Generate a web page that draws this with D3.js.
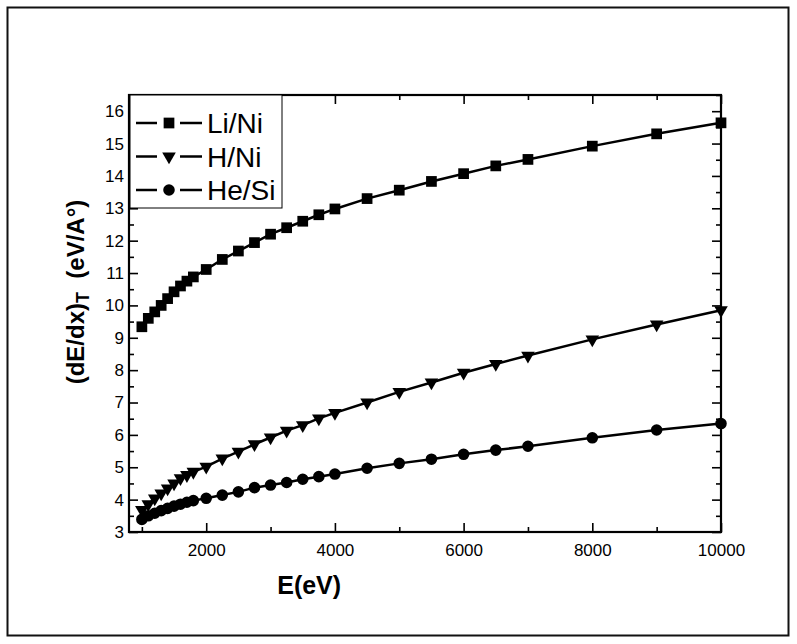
<!DOCTYPE html>
<html>
<head>
<meta charset="utf-8">
<script src="https://cdn.jsdelivr.net/npm/d3@7"></script>
<style>
  body { margin: 0; background: #fff; }
  text { font-family: Arial, "Liberation Sans", sans-serif; fill: #000; }
</style>
</head>
<body>
<div id="chart"></div>
<script>
// data
var energy = [1000, 1100, 1200, 1300, 1400, 1500, 1600, 1700, 1800, 2000, 2250, 2500, 2750,
              3000, 3250, 3500, 3750, 4000, 4500, 5000, 5500, 6000, 6500, 7000, 8000, 9000, 10000];
var liNi = [9.34, 9.6, 9.8, 10.0, 10.21, 10.42, 10.6, 10.75, 10.88, 11.11, 11.42, 11.68, 11.94,
            12.2, 12.4, 12.6, 12.8, 12.98, 13.3, 13.56, 13.83, 14.07, 14.31, 14.51, 14.92, 15.3, 15.64];
var hNi = [3.68, 3.86, 4.04, 4.19, 4.35, 4.5, 4.66, 4.76, 4.86, 5.02, 5.27, 5.48, 5.71,
           5.92, 6.13, 6.3, 6.51, 6.68, 7.0, 7.33, 7.62, 7.92, 8.19, 8.45, 8.95, 9.41, 9.85];
var heSi = [3.39, 3.5, 3.58, 3.66, 3.73, 3.8, 3.86, 3.92, 3.97, 4.04, 4.14, 4.24, 4.37,
            4.45, 4.53, 4.63, 4.71, 4.79, 4.97, 5.12, 5.25, 5.4, 5.53, 5.65, 5.91, 6.15, 6.35];
var seriesNames = ["Li/Ni", "H/Ni", "He/Si"];
var xTicks = [2000, 4000, 6000, 8000, 10000];
var xMinor = [1000, 3000, 5000, 7000, 9000];
var yTicks = [3, 4, 5, 6, 7, 8, 9, 10, 11, 12, 13, 14, 15, 16];
var yMinor = [3.5, 4.5, 5.5, 6.5, 7.5, 8.5, 9.5, 10.5, 11.5, 12.5, 13.5, 14.5, 15.5, 16.5];

var W = 797, H = 644;
var margin = {top: 95, right: 76, bottom: 112, left: 129};
var width = W - margin.left - margin.right;
var height = H - margin.top - margin.bottom;

var root = d3.select("#chart").append("svg")
    .attr("width", W)
    .attr("height", H);

// outer page frame
root.append("rect")
    .attr("x", 7.5).attr("y", 7.5)
    .attr("width", 781).attr("height", 628)
    .attr("fill", "none")
    .attr("stroke", "#111")
    .attr("stroke-width", 2);

var svg = root.append("g")
    .attr("transform", "translate(" + margin.left + "," + margin.top + ")");

var x = d3.scaleLinear().domain([800, 10000]).range([0, width]);
var y = d3.scaleLinear().domain([3, 16.5]).range([height, 0]);

function tickStyle(g) {
    g.select(".domain").remove();
    g.selectAll("line").attr("stroke", "#000").attr("stroke-width", 1.6);
    g.selectAll("text").style("font-size", "17px").attr("fill", "#000");
}

// bottom
svg.append("g").attr("transform", "translate(0," + height + ")")
    .call(d3.axisBottom(x).tickValues(xTicks).tickSize(-9).tickPadding(12).tickFormat(d3.format("d")))
    .call(tickStyle);
svg.append("g").attr("transform", "translate(0," + height + ")")
    .call(d3.axisBottom(x).tickValues(xMinor).tickSize(-5).tickFormat(""))
    .call(tickStyle);
// top
svg.append("g")
    .call(d3.axisTop(x).tickValues(xTicks).tickSize(-9).tickFormat(""))
    .call(tickStyle);
svg.append("g")
    .call(d3.axisTop(x).tickValues(xMinor).tickSize(-5).tickFormat(""))
    .call(tickStyle);
// left
svg.append("g")
    .call(d3.axisLeft(y).tickValues(yTicks).tickSize(-9).tickPadding(5).tickFormat(d3.format("d")))
    .call(tickStyle);
svg.append("g")
    .call(d3.axisLeft(y).tickValues(yMinor).tickSize(-5).tickFormat(""))
    .call(tickStyle);
// right
svg.append("g").attr("transform", "translate(" + width + ",0)")
    .call(d3.axisRight(y).tickValues(yTicks).tickSize(-9).tickFormat(""))
    .call(tickStyle);
svg.append("g").attr("transform", "translate(" + width + ",0)")
    .call(d3.axisRight(y).tickValues(yMinor).tickSize(-5).tickFormat(""))
    .call(tickStyle);

// plot frame
svg.append("rect")
    .attr("width", width).attr("height", height)
    .attr("fill", "none")
    .attr("stroke", "#000")
    .attr("stroke-width", 2.2);

// axis titles
svg.append("text")
    .attr("x", x(3600)).attr("y", height + 62)
    .attr("text-anchor", "middle")
    .style("font-size", "25px").style("font-weight", "bold")
    .text("E(eV)");

var yt = svg.append("text")
    .attr("transform", "translate(" + (-45) + "," + (197) + ") rotate(-90)")
    .attr("text-anchor", "middle")
    .style("font-size", "24px").style("font-weight", "bold");
yt.append("tspan").text("(dE/dx)");
yt.append("tspan").attr("dy", 5).style("font-size", "18px").text("T");
yt.append("tspan").attr("dy", -5).text("\u00a0 (eV/A\u00b0)");

// series
var symbols = [d3.symbolSquare, d3.symbolTriangle, d3.symbolCircle];
var sizes = [115, 80, 105];
var rotations = [0, 180, 0];
var seriesData = [liNi, hNi, heSi];

var line = d3.line()
    .x(function(d, i) { return x(energy[i]); })
    .y(function(d) { return y(d); });

seriesData.forEach(function(vals, s) {
    svg.append("path")
        .datum(vals)
        .attr("d", line)
        .attr("fill", "none")
        .attr("stroke", "#000")
        .attr("stroke-width", 2.5);

    svg.append("g")
        .selectAll("path")
        .data(vals)
        .enter()
        .append("path")
        .attr("d", d3.symbol().type(symbols[s]).size(sizes[s]))
        .attr("transform", function(d, i) {
            return "translate(" + x(energy[i]) + "," + y(d) + ") rotate(" + rotations[s] + ")";
        })
        .attr("fill", "#000");
});

// legend
var leg = svg.append("g");
leg.append("rect")
    .attr("x", 1).attr("y", 0)
    .attr("width", 152).attr("height", 113)
    .attr("fill", "#fff")
    .attr("stroke", "#000")
    .attr("stroke-width", 1);

seriesNames.forEach(function(name, s) {
    var ly = 28 + s * 33.5;
    leg.append("line").attr("x1", 7).attr("x2", 28).attr("y1", ly).attr("y2", ly)
        .attr("stroke", "#000").attr("stroke-width", 2.5);
    leg.append("line").attr("x1", 51).attr("x2", 73).attr("y1", ly).attr("y2", ly)
        .attr("stroke", "#000").attr("stroke-width", 2.5);
    leg.append("path")
        .attr("d", d3.symbol().type(symbols[s]).size(sizes[s]))
        .attr("transform", "translate(40," + ly + ") rotate(" + rotations[s] + ")")
        .attr("fill", "#000");
    leg.append("text")
        .attr("x", 78).attr("y", ly)
        .attr("dy", "0.36em")
        .style("font-size", "28px")
        .text(name);
});
</script>
</body>
</html>
